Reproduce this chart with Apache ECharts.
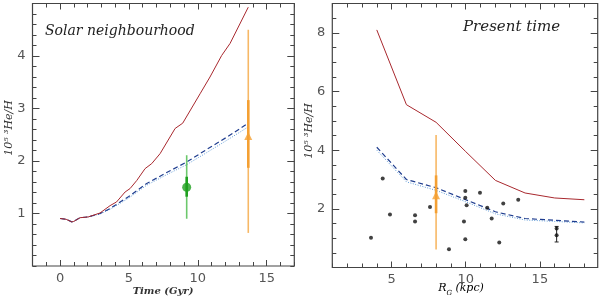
<!DOCTYPE html>
<html>
<head>
<meta charset="utf-8">
<script src="https://cdn.jsdelivr.net/npm/echarts@6/dist/echarts.min.js"></script>
<style>html,body{margin:0;padding:0;background:#fff}#c{width:600px;height:299px}</style>
</head>
<body>
<div id="c"></div>
<script>
// ---------- DATA ----------
// Left panel: Solar neighbourhood, time (Gyr) vs 10^5 3He/H
const leftRed = [[0,0.905],[0.44,0.89],[0.85,0.84],[1.0,0.85],[1.45,0.92],[2.05,0.935],[2.9,1.01],[3.63,1.15],[4.1,1.22],[4.72,1.41],[5.08,1.475],[5.57,1.63],[6.17,1.855],[6.65,1.95],[7.26,2.14],[8.35,2.62],[8.9,2.72],[10.16,3.28],[10.88,3.60],[11.73,4.01],[12.34,4.24],[13.66,4.93]];
const leftDashed = [[0,0.905],[0.44,0.89],[0.85,0.84],[1.0,0.85],[1.45,0.92],[2.05,0.935],[2.9,1.0],[3.63,1.095],[4.96,1.32],[6.29,1.57],[7.74,1.78],[9.19,1.98],[10.64,2.22],[12.2,2.47],[13.66,2.72]];
const leftDotted = [[0,0.905],[0.44,0.89],[0.85,0.84],[1.0,0.85],[1.45,0.92],[2.05,0.935],[2.9,0.99],[3.63,1.08],[4.96,1.29],[6.29,1.54],[7.74,1.74],[9.19,1.93],[10.64,2.16],[12.2,2.41],[13.66,2.65]];
// error bars: [x, y, thinLow, thinHigh, thickLow, thickHigh]
const leftGreen = [[9.19,1.5,0.9,2.11,1.32,1.7]];
const leftOrange = [[13.66,2.475,0.63,4.5,1.87,3.16]];

// Right panel: present time, R_G (kpc) vs 10^5 3He/H
const rightRed = [[4,8.1],[6,5.55],[8,4.95],[10,3.95],[12,2.97],[14,2.54],[16,2.37],[18,2.31]];
const rightDashed = [[4,4.1],[6,3.0],[8,2.72],[10,2.31],[12,1.9],[14,1.67],[16,1.61],[18,1.55]];
const rightDotted = [[4,4.0],[6,2.92],[8,2.63],[10,2.24],[12,1.83],[14,1.62],[16,1.57],[18,1.52]];
const rightOrange = [[8.0,2.46,0.61,4.52,1.85,3.14]];
const rightPoints = [[3.61,1.01],[4.40,3.03],[4.89,1.81],[6.58,1.78],[6.58,1.57],[7.59,2.06],[8.87,0.62],[9.88,1.57],[9.97,2.61],[9.97,2.38],[10.06,2.12],[9.97,0.96],[10.96,2.55],[11.45,2.04],[11.75,1.67],[12.26,0.85],[12.53,2.18],[13.54,2.31],[16.13,1.33],[16.13,1.10]];
const rightBlackBar = [[16.13,0.87,1.40]];

// Tick labels
const leftXTicks = [0,5,10,15];
const leftYTicks = [1,2,3,4];
const rightXTicks = [5,10,15];
const rightYTicks = [2,4,6,8];

const leftTitle = 'Solar neighbourhood';
const rightTitle = 'Present time';
const yName = '10\u2075 \u00B3He/H';

// ---------- BUILD ----------
function range(a,b,s){const r=[];for(let v=a;v<=b+1e-9;v+=s)r.push(Math.round(v*1000)/1000);return r;}
const LX=[-2,17], LY=[0,5], RX=[1,18.9], RY=[0,9];
const lxMinor=range(-2,17,1), lyMinor=range(0,5,0.2), rxMinor=range(1,18,1), ryMinor=range(0,9,0.5);

const AX='#444';
const labelFont={fontFamily:'DejaVu Sans',fontSize:13,color:'#555'};
function ax(grid,ext,pos,vals,len,labels,margin){
  return {type:'value',gridIndex:grid,min:ext[0],max:ext[1],position:pos,
    axisLine:{show:false,onZero:false},splitLine:{show:false},
    axisTick:{show:true,inside:true,length:len,customValues:vals,lineStyle:{color:AX,width:1}},
    axisLabel:labels?Object.assign({show:true,customValues:labels,margin:margin},labelFont):{show:false}};
}

function errRender(color,thinColor){
  return function(params,api){
    const x=api.value(0);
    const a=api.coord([x,api.value(2)]), b=api.coord([x,api.value(3)]);
    const c=api.coord([x,api.value(4)]), d=api.coord([x,api.value(5)]);
    return {type:'group',children:[
      {type:'line',shape:{x1:a[0],y1:a[1],x2:b[0],y2:b[1]},style:{stroke:thinColor,lineWidth:1.6}},
      {type:'line',shape:{x1:c[0],y1:c[1],x2:d[0],y2:d[1]},style:{stroke:color,lineWidth:2.6}}
    ]};
  };
}
function capRender(params,api){
  const x=api.value(0);
  const a=api.coord([x,api.value(1)]), b=api.coord([x,api.value(2)]);
  return {type:'group',children:[
    {type:'line',shape:{x1:a[0],y1:a[1],x2:b[0],y2:b[1]},style:{stroke:'#222',lineWidth:1}},
    {type:'line',shape:{x1:a[0]-2,y1:a[1],x2:a[0]+2,y2:a[1]},style:{stroke:'#222',lineWidth:1}},
    {type:'line',shape:{x1:b[0]-2,y1:b[1],x2:b[0]+2,y2:b[1]},style:{stroke:'#222',lineWidth:1}}
  ]};
}

const RED='#a8282e', BLUE='#1f3d8f', DOT='#5f9ad6', ORANGE='#f4a033', ORANGE_L='#f7b866', GREEN='#1fa01f', GREEN_L='#6cc86c';

function lines(xi,yi,red,dash,dot){
  return [
    {type:'line',xAxisIndex:xi,yAxisIndex:yi,data:dot,showSymbol:false,silent:true,lineStyle:{color:DOT,width:1,type:[1,1.5]},z:2},
    {type:'line',xAxisIndex:xi,yAxisIndex:yi,data:dash,showSymbol:false,silent:true,lineStyle:{color:BLUE,width:1.2,type:[5,3]},z:3},
    {type:'line',xAxisIndex:xi,yAxisIndex:yi,data:red,showSymbol:false,silent:true,lineStyle:{color:RED,width:1},z:4}
  ];
}

const option={
  animation:false,
  grid:[
    {left:32.5,right:305.7,top:3.5,bottom:33,show:true,borderColor:AX,borderWidth:1.2,containLabel:false},
    {left:332.3,right:2.3,top:3.5,bottom:31.5,show:true,borderColor:AX,borderWidth:1.2,containLabel:false}
  ],
  xAxis:[
    ax(0,LX,'bottom',lxMinor,4,null),
    ax(0,LX,'bottom',leftXTicks,6,leftXTicks,6),
    ax(0,LX,'top',lxMinor,4,null),
    ax(0,LX,'top',leftXTicks,6,null),
    ax(1,RX,'bottom',rxMinor,4,null),
    ax(1,RX,'bottom',rightXTicks,6,rightXTicks,6),
    ax(1,RX,'top',rxMinor,4,null),
    ax(1,RX,'top',rightXTicks,6,null)
  ],
  yAxis:[
    ax(0,LY,'left',lyMinor,4,null),
    ax(0,LY,'left',leftYTicks,7,leftYTicks,7),
    ax(0,LY,'right',lyMinor,4,null),
    ax(0,LY,'right',leftYTicks,7,null),
    ax(1,RY,'left',ryMinor,4,null),
    ax(1,RY,'left',rightYTicks,7,rightYTicks,7),
    ax(1,RY,'right',ryMinor,4,null),
    ax(1,RY,'right',rightYTicks,7,null)
  ],
  series:[
    ...lines(1,1,leftRed,leftDashed,leftDotted),
    {type:'custom',xAxisIndex:1,yAxisIndex:1,data:leftGreen,renderItem:errRender(GREEN,GREEN_L),z:5},
    {type:'scatter',xAxisIndex:1,yAxisIndex:1,data:leftGreen.map(d=>[d[0],d[1]]),symbol:'circle',symbolSize:9,itemStyle:{color:GREEN},z:6},
    {type:'custom',xAxisIndex:1,yAxisIndex:1,data:leftOrange,renderItem:errRender(ORANGE,ORANGE_L),z:5},
    {type:'scatter',xAxisIndex:1,yAxisIndex:1,data:leftOrange.map(d=>[d[0],d[1]]),symbol:'triangle',symbolSize:8,itemStyle:{color:ORANGE},z:6},
    ...lines(5,5,rightRed,rightDashed,rightDotted),
    {type:'scatter',xAxisIndex:5,yAxisIndex:5,data:rightPoints,symbol:'circle',symbolSize:4,itemStyle:{color:'#111'},z:6},
    {type:'custom',xAxisIndex:5,yAxisIndex:5,data:rightBlackBar,renderItem:capRender,z:5},
    {type:'custom',xAxisIndex:5,yAxisIndex:5,data:rightOrange,renderItem:errRender(ORANGE,ORANGE_L),z:5},
    {type:'scatter',xAxisIndex:5,yAxisIndex:5,data:rightOrange.map(d=>[d[0],d[1]]),symbol:'triangle',symbolSize:8,itemStyle:{color:ORANGE},z:6}
  ],
  graphic:[
    {type:'text',left:45,top:24,style:{text:leftTitle,font:'italic 14px "DejaVu Serif"',fill:'#222'}},
    {type:'text',left:463,top:20,style:{text:rightTitle,font:'italic 15px "DejaVu Serif"',fill:'#222'}},
    {type:'text',x:163,y:291.5,style:{text:'Time (Gyr)',font:'italic bold 10px "DejaVu Serif"',fill:'#333',align:'center',verticalAlign:'middle'}},
    {type:'text',x:461,y:288,style:{
      text:'{r|R}{g|G} {r|(kpc)}',align:'center',verticalAlign:'middle',
      rich:{r:{fontFamily:'DejaVu Serif',fontStyle:'italic',fontSize:11,lineHeight:18,verticalAlign:'middle',color:'#333'},
            g:{fontFamily:'DejaVu Serif',fontStyle:'italic',fontSize:7,lineHeight:8,verticalAlign:'bottom',color:'#333'}}}},
    {type:'text',x:9,y:128,rotation:Math.PI/2,style:{text:yName,font:'italic 11px "DejaVu Serif"',fill:'#333',align:'center',verticalAlign:'middle'}},
    {type:'text',x:309.5,y:131,rotation:Math.PI/2,style:{text:yName,font:'italic 11px "DejaVu Serif"',fill:'#333',align:'center',verticalAlign:'middle'}}
  ]
};
const chart=echarts.init(document.getElementById('c'),null,{renderer:'canvas'});
chart.setOption(option);
</script>
</body>
</html>
